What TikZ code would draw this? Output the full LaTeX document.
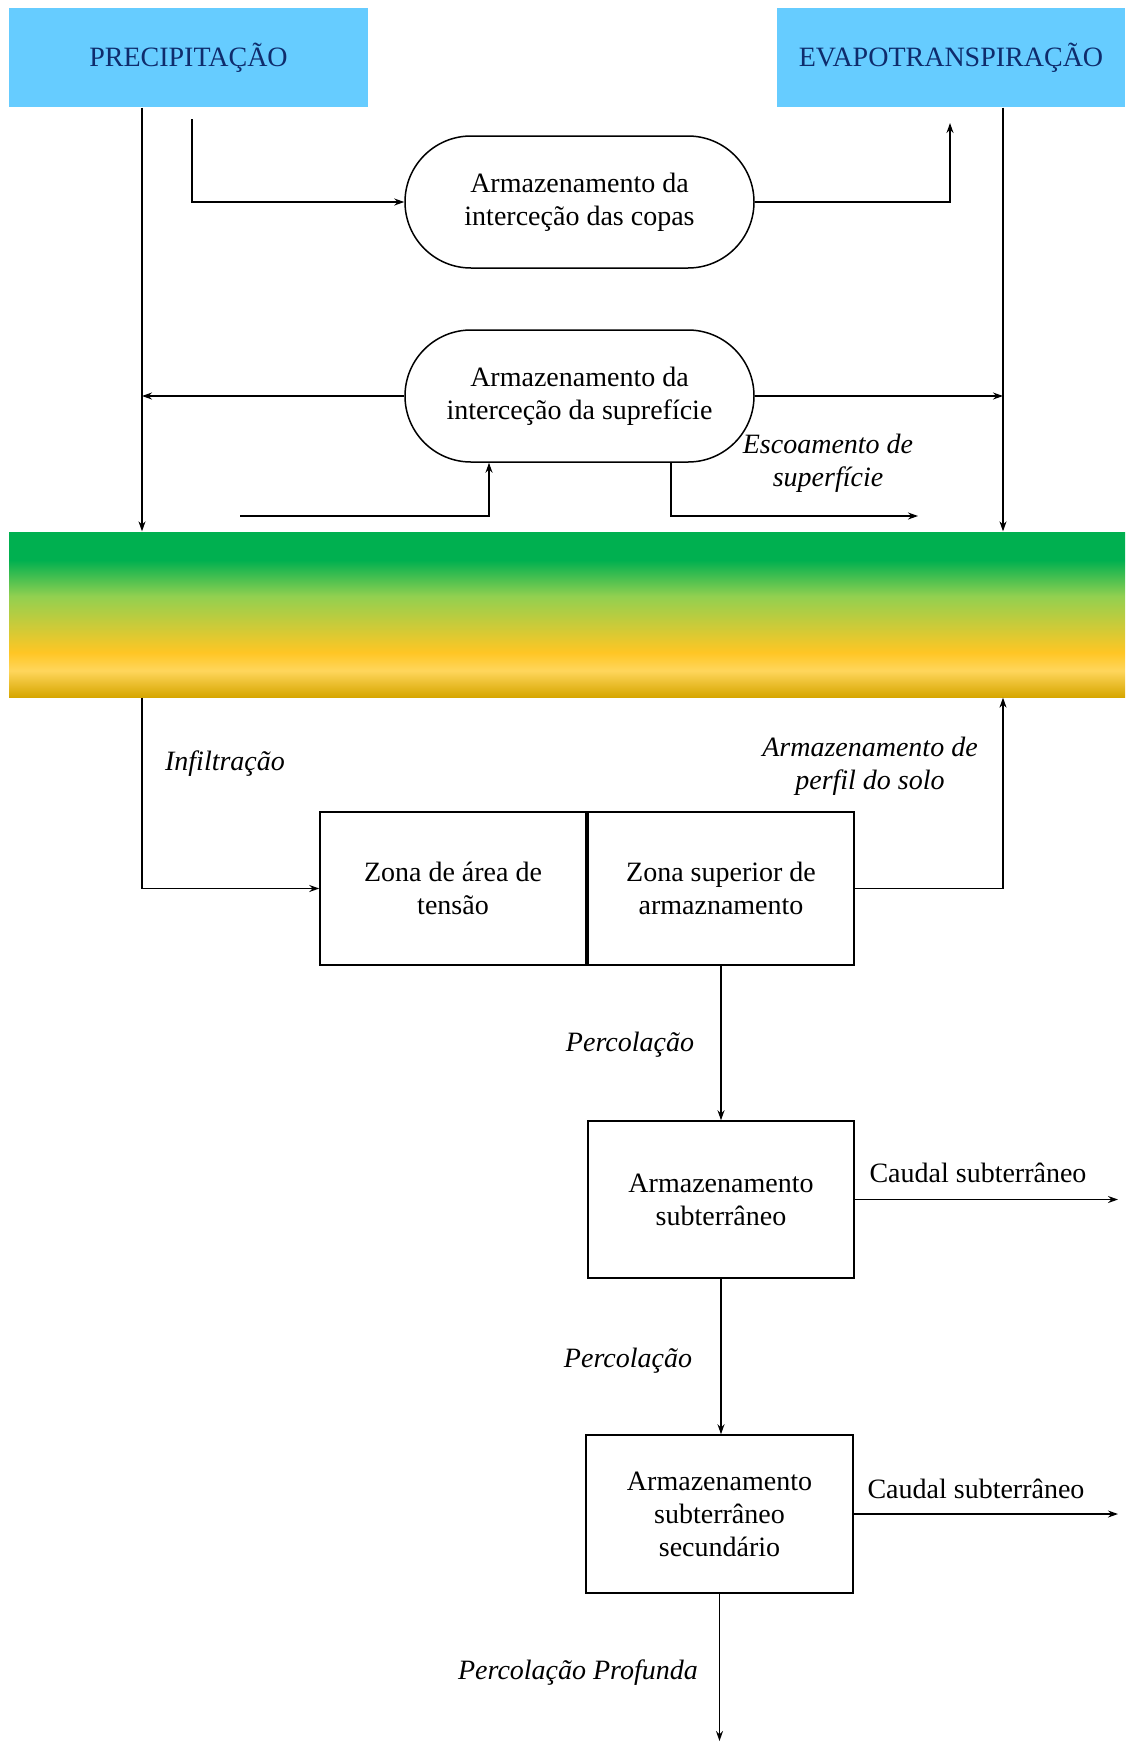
\documentclass[tikz,border=0pt]{standalone}
\usepackage{fontspec}
\setmainfont{Liberation Serif}
\usetikzlibrary{arrows.meta,calc}
\definecolor{skyb}{HTML}{66CCFF}
\definecolor{navy}{HTML}{0F2C6C}
\definecolor{sgreen}{HTML}{00B050}
\definecolor{lgreen}{HTML}{92D050}
\definecolor{yor}{HTML}{FFC624}
\definecolor{lyel}{HTML}{FFD65C}
\definecolor{dgold}{HTML}{D6A600}
\pgfdeclareverticalshading{soil}{100bp}{color(0bp)=(dgold); color(25bp)=(dgold); color(33bp)=(lyel); color(38.5bp)=(yor); color(55.5bp)=(lgreen); color(66.5bp)=(sgreen); color(75bp)=(sgreen); color(100bp)=(sgreen)}
\begin{document}
\begin{tikzpicture}[x=1pt,y=-1pt,
  line width=1.3pt,
  arr/.style={-{Stealth[length=10pt,width=7pt]}},
  txt/.style={font=\fontsize{28}{33}\selectfont},
  lbl/.style={txt, align=center, inner sep=0},
  ilbl/.style={font=\fontsize{28}{33}\selectfont\itshape, align=center, inner sep=0},
  title/.style={txt, fill=skyb, text=navy, inner sep=0, minimum height=99pt},
  pill/.style={txt, draw, line width=1.5pt, rounded corners=66pt, minimum width=349pt, minimum height=132pt, align=center, inner sep=0},
  boxnode/.style={txt, draw, line width=1.5pt, minimum width=266pt, minimum height=155pt, align=center, inner sep=0}]

\useasboundingbox (0,0) rectangle (1125,1743);

% top boxes
\node[title, minimum width=359pt] (prec) at (188.5,57.5) {PRECIPITAÇÃO};
\node[title, minimum width=348pt] (evap) at (951,57.5) {EVAPOTRANSPIRAÇÃO};

% interception storages
\node[pill] (canopy) at (579.5,202) {Armazenamento da\\interceção das copas};
\node[pill] (surf) at (579.5,396) {Armazenamento da\\interceção da suprefície};

% soil band
\node[shading=soil, minimum width=1116pt, minimum height=165pt, inner sep=0] (band) at (567,614.5) {};

% zones
\node[boxnode, minimum height=153pt] (zone1) at (453,888.5) {Zona de área de\\tensão};
\node[boxnode, minimum height=153pt] (zone2) at (721,888.5) {Zona superior de\\armaznamento};
\node[boxnode, minimum height=157pt] (sub1) at (721,1199.5) {Armazenamento\\subterrâneo};
\node[boxnode, minimum width=267pt, minimum height=158pt] (sub2) at (719.5,1514) {Armazenamento\\subterrâneo\\secundário};

% labels
\node[ilbl] (lesc) at (828,463) {Escoamento de\\superfície};
\node[ilbl] (linf) at (225,764) {Infiltração};
\node[ilbl] (lperf) at (870,766) {Armazenamento de\\perfil do solo};
\node[ilbl] (lperc1) at (630,1045) {Percolação};
\node[ilbl] (lperc2) at (628,1361) {Percolação};
\node[ilbl] (lprof) at (578,1673) {Percolação Profunda};
\node[lbl] (lcaud1) at (978,1173) {Caudal subterrâneo};
\node[lbl] (lcaud2) at (976,1489) {Caudal subterrâneo};

% helper coordinates
\coordinate (pl) at (142,0);
\coordinate (pr) at (1003,0);
\coordinate (p2) at (192,119);
\coordinate (e1) at (950,123);
\coordinate (s1) at (240,516);
\coordinate (sx) at (489,0);
\coordinate (rx) at (671,0);
\coordinate (e2) at (918,516);
\coordinate (c1) at (1118,0);
\coordinate (deep) at (720,1741);

% connectors
\draw[arr] (pl |- prec.south) -- (pl |- band.north);
\draw[arr] (p2) |- (canopy.west);
\draw[arr] (canopy.east) -| (e1);
\draw[arr] (pr |- evap.south) -- (pr |- band.north);
\draw[arr] (surf.west) -- (pl |- surf.west);
\draw[arr] (surf.east) -- (pr |- surf.east);
\draw[arr] (s1) -| (sx |- surf.south);
\draw[arr] (rx |- surf.south) |- (e2);
\draw[arr] (pl |- band.south) |- (zone1.west);
\draw[arr] (zone2.east) -| (pr |- band.south);
\draw[arr] (zone2.south) -- (sub1.north);
\draw[arr] (sub1.east) -- (c1 |- sub1.east);
\draw[arr] (sub1.south) -- (sub1.south |- sub2.north);
\draw[arr] (sub2.east) -- (c1 |- sub2.east);
\draw[arr] (sub2.south) -- (sub2.south |- deep);
\end{tikzpicture}
\end{document}
